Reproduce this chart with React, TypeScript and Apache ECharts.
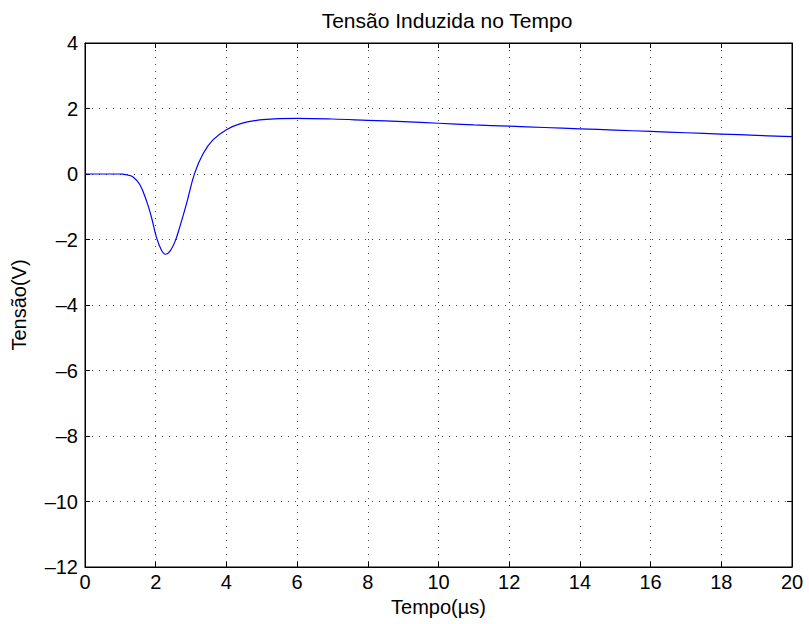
import React, { useEffect, useRef } from "react";
import * as echarts from "echarts";

// Tempo (µs) and induced voltage (V) samples of the transient
const tempo = [
  0, 0.5, 1.0, 1.07, 1.2, 1.36, 1.55, 1.74, 1.88, 2.02, 2.16, 2.28, 2.4, 2.54,
  2.68, 2.87, 3.1, 3.34, 3.62, 4.0, 4.38, 4.94, 5.5, 6, 7, 8, 9, 10, 11, 12, 13,
  14, 15, 16, 17, 18, 19, 20,
];
const tensao = [
  0, 0, 0, -0.005, -0.03, -0.09, -0.32, -0.82, -1.32, -1.93, -2.32, -2.45,
  -2.36, -2.08, -1.62, -0.91, 0.02, 0.62, 1.04, 1.35, 1.53, 1.65, 1.69, 1.7,
  1.68, 1.64, 1.6, 1.55, 1.5, 1.46, 1.42, 1.38, 1.34, 1.3, 1.26, 1.22, 1.18,
  1.14,
];

const xTicks = { min: 0, max: 20, interval: 2 };
const yTicks = { min: -12, max: 4, interval: 2 };

const FONT = "Liberation Sans, Arial, Helvetica, sans-serif";
const fmt = (v: number) => String(v).replace("-", "\u2013");

export default function App() {
  const ref = useRef<HTMLDivElement>(null);

  useEffect(() => {
    if (!ref.current) return;
    const chart = echarts.init(ref.current, undefined, { renderer: "svg" });

    const gridLine = {
      show: true,
      lineStyle: { color: "#444", width: 1, type: [1, 6] as number[] },
    };
    const axisLine = { show: true, onZero: false, lineStyle: { color: "#000", width: 1 } };
    const tick = { show: true, inside: true, length: 5, lineStyle: { color: "#000" } };
    const label = { color: "#000", fontFamily: FONT, fontSize: 20 };
    const nameStyle = { color: "#000", fontFamily: FONT, fontSize: 20 };

    chart.setOption({
      animation: false,
      backgroundColor: "#fff",
      title: {
        text: "Tensão Induzida no Tempo",
        left: 442,
        top: 5,
        textAlign: "center",
        textStyle: { color: "#000", fontFamily: FONT, fontSize: 21, fontWeight: "normal" },
      },
      grid: {
        left: 85,
        right: 17,
        top: 43,
        bottom: 57,
        containLabel: false,
        show: true,
        borderColor: "#000",
        borderWidth: 1,
        backgroundColor: "transparent",
      },
      xAxis: [
        {
          type: "value",
          ...xTicks,
          position: "bottom",
          axisLine,
          axisTick: tick,
          splitLine: gridLine,
          axisLabel: { ...label, margin: 5, formatter: fmt },
          name: "Tempo(µs)",
          nameLocation: "middle",
          nameGap: 28,
          nameTextStyle: nameStyle,
        },
        {
          type: "value",
          ...xTicks,
          position: "top",
          axisLine: { ...axisLine },
          axisTick: { ...tick },
          splitLine: { show: false },
          axisLabel: { show: false },
        },
      ],
      yAxis: [
        {
          type: "value",
          ...yTicks,
          position: "left",
          axisLine,
          axisTick: tick,
          splitLine: gridLine,
          axisLabel: { ...label, margin: 7, formatter: fmt },
          name: "Tensão(V)",
          nameLocation: "middle",
          nameGap: 56,
          nameTextStyle: nameStyle,
        },
        {
          type: "value",
          ...yTicks,
          position: "right",
          axisLine: { ...axisLine },
          axisTick: { ...tick },
          splitLine: { show: false },
          axisLabel: { show: false },
        },
      ],
      series: [
        {
          type: "line",
          data: tempo.map((t, i) => [t, tensao[i]]),
          smooth: 0.4,
          showSymbol: false,
          lineStyle: { color: "#0000ff", width: 1.2 },
          xAxisIndex: 0,
          yAxisIndex: 0,
        },
      ],
    });

    return () => chart.dispose();
  }, []);

  return (
    <div
      ref={ref}
      style={{ position: "fixed", left: 0, top: 0, width: 809, height: 624 }}
    />
  );
}
